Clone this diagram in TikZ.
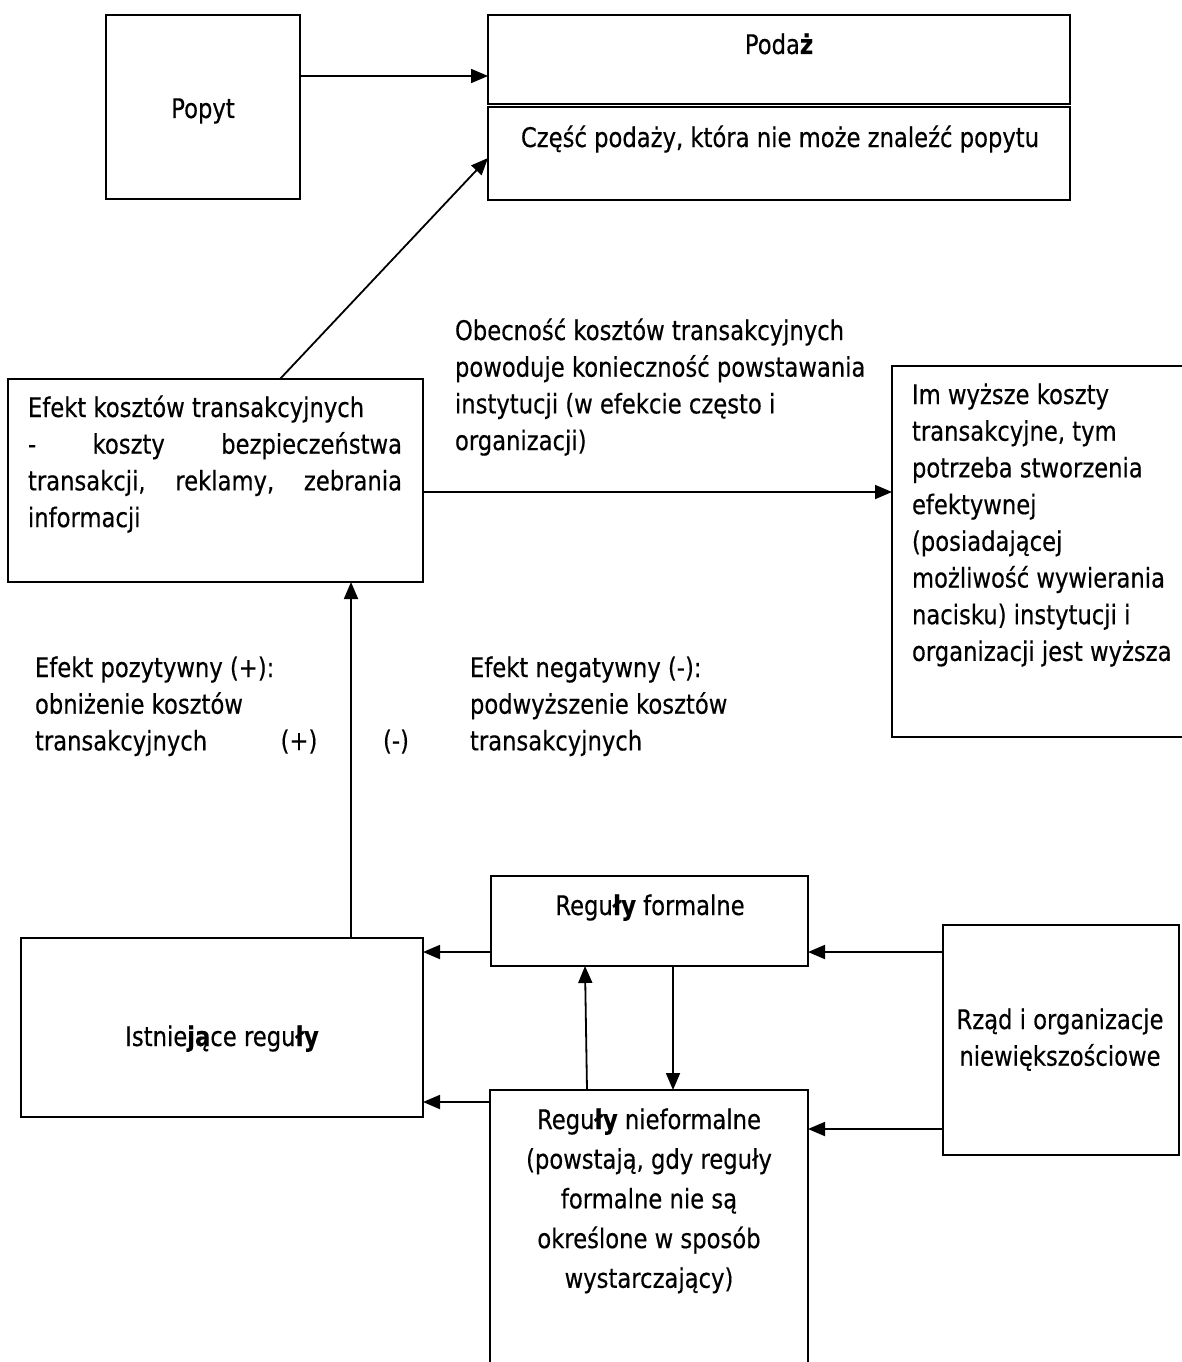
\documentclass[tikz,border=0pt]{standalone}
\usepackage{fontspec}
\setmainfont{DejaVu Sans}[FakeStretch=0.84,FakeBold=0.4]
\usetikzlibrary{arrows.meta,fit}
\newcommand\mylineL[1]{\hbox{#1}}
\newcommand\mylineC[1]{\hbox to\hsize{\hfil#1\hfil}}
\begin{document}
\begin{tikzpicture}[x=1pt,y=-1pt,
  box/.style={draw, line width=1.8pt, inner sep=0pt, outer sep=0pt},
  arr/.style={line width=1.8pt, -{Triangle[length=17pt,width=14pt]}},
  txt/.style={inner sep=0pt, outer sep=0pt, font=\fontsize{27}{36.7}\selectfont}]
\useasboundingbox (0,0) rectangle (1182,1362);

% boxes
\node[box, fit={(106,15)(300,199)}] (popyt) {};
\node[box, fit={(488,15)(1070,104)}] (podazA) {};
\node[box, fit={(488,107)(1070,200)}] (podazB) {};
\node[box, fit={(8,379)(423,582)}] (efekt) {};
\node[box, fit={(892,366)(1190,737)}] (im) {};
\node[box, fit={(21,938)(423,1117)}] (exist) {};
\node[box, fit={(491,876)(808,966)}] (formal) {};
\node[box, fit={(490,1090)(808,1370)}] (informal) {};
\node[box, fit={(943,925)(1179,1155)}] (rzad) {};

% helper coordinates
\coordinate (y76) at (0,76);
\coordinate (y158) at (0,158);
\coordinate (y492) at (0,492);
\coordinate (y952) at (0,952);
\coordinate (y1102) at (0,1102);
\coordinate (y1129) at (0,1129);
\coordinate (x280) at (280,0);
\coordinate (x351) at (351,0);
\coordinate (x587) at (587,0);
\coordinate (x585) at (585,0);
\coordinate (x673) at (673,0);

% connectors
\draw[arr] (popyt.east |- y76) -- (podazA.west |- y76);
\draw[arr] (efekt.north -| x280) -- (podazB.west |- y158);
\draw[arr] (efekt.east |- y492) -- (im.west |- y492);
\draw[arr] (exist.north -| x351) -- (efekt.south -| x351);
\draw[arr] (formal.west |- y952) -- (exist.east |- y952);
\draw[arr] (informal.west |- y1102) -- (exist.east |- y1102);
\draw[arr] (rzad.west |- y952) -- (formal.east |- y952);
\draw[arr] (rzad.west |- y1129) -- (informal.east |- y1129);
\draw[arr] (informal.north -| x587) -- (formal.south -| x585);
\draw[arr] (formal.south -| x673) -- (informal.north -| x673);

% texts
\node[txt, anchor=base] (tPopyt) at (203,118) {Popyt};
\node[txt, anchor=base] (tPodaz) at (779,54) {Poda\textbf{ż}};
\node[txt, anchor=base] (tCzesc) at (780,147) {Część podaży, która nie może znaleźć popytu};

\node[txt, anchor=base west] (tObec) at (455,340) {\vtop{%
  \mylineL{Obecność kosztów transakcyjnych}%
  \mylineL{powoduje konieczność powstawania}%
  \mylineL{instytucji (w efekcie często i}%
  \mylineL{organizacji)}}};

\node[txt, anchor=base west] (tEfekt) at (28,417) {\vtop{\hsize=374pt
  \mylineL{Efekt kosztów transakcyjnych}%
  \hbox to\hsize{-\hfill koszty\hfill bezpieczeństwa}%
  \hbox to\hsize{transakcji,\hfill reklamy,\hfill zebrania}%
  \mylineL{informacji}}};

\node[txt, anchor=base west] (tIm) at (912,404) {\vtop{%
  \mylineL{Im wyższe koszty}%
  \mylineL{transakcyjne, tym}%
  \mylineL{potrzeba stworzenia}%
  \mylineL{efektywnej}%
  \mylineL{(posiadającej}%
  \mylineL{możliwość wywierania}%
  \mylineL{nacisku) instytucji i}%
  \mylineL{organizacji jest wyższa}}};

\node[txt, anchor=base west] (tPoz) at (35,677) {\vtop{%
  \mylineL{Efekt pozytywny (+):}%
  \mylineL{obniżenie kosztów}%
  \mylineL{transakcyjnych}}};
\node[txt, anchor=base] (tPlus) at (299,750) {(+)};
\node[txt, anchor=base] (tMinus) at (396,750) {(-)};
\node[txt, anchor=base west] (tNeg) at (470,677) {\vtop{%
  \mylineL{Efekt negatywny (-):}%
  \mylineL{podwyższenie kosztów}%
  \mylineL{transakcyjnych}}};

\node[txt, anchor=base] (tFormal) at (650,915) {Regu\textbf{ły} formalne};
\node[txt, anchor=base] (tExist) at (222,1046) {Istnie\textbf{ją}ce regu\textbf{ły}};
\node[txt, anchor=base] (tRzad) at (1060,1029) {\vtop{\hsize=236pt
  \mylineC{Rząd i organizacje}%
  \mylineC{niewiększościowe}}};
\node[txt, anchor=base, font=\fontsize{27}{39.7}\selectfont] (tInformal) at (649,1129) {\vtop{\hsize=316pt
  \mylineC{Regu\textbf{ły} nieformalne}%
  \mylineC{(powstają, gdy reguły}%
  \mylineC{formalne nie są}%
  \mylineC{określone w sposób}%
  \mylineC{wystarczający)}}};
\end{tikzpicture}
\end{document}
